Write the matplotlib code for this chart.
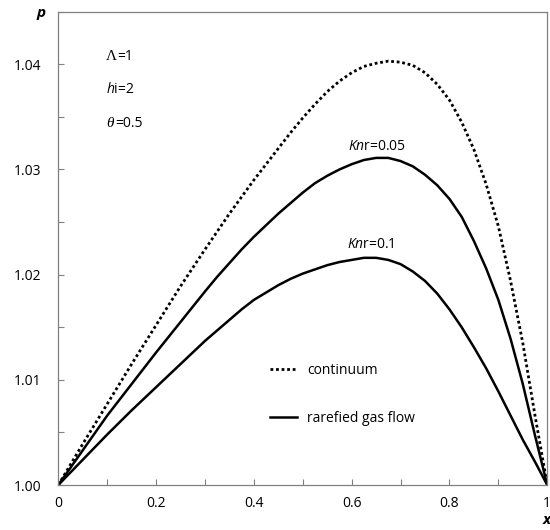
import numpy as np
import matplotlib
matplotlib.use("Agg")
import matplotlib.pyplot as plt
from matplotlib.ticker import MultipleLocator, FixedLocator

plt.rcParams["font.family"] = ["Open Sans", "DejaVu Sans"]
plt.rcParams["mathtext.fontset"] = "custom"
plt.rcParams["mathtext.rm"] = "Open Sans"
plt.rcParams["mathtext.it"] = "Open Sans:italic"

# values
x = [0, 0.05, 0.1, 0.15, 0.2, 0.25, 0.3, 0.325, 0.35, 0.375, 0.4, 0.425,
     0.45, 0.475, 0.5, 0.525, 0.55, 0.575, 0.6, 0.625, 0.65, 0.675, 0.7,
     0.725, 0.75, 0.775, 0.8, 0.825, 0.85, 0.875, 0.9, 0.925, 0.95, 0.975,
     1.0]
p_continuum = [1.0000, 1.0039, 1.0077, 1.0115, 1.0152, 1.0189, 1.0224, 1.0241,
               1.0258, 1.0274, 1.0290, 1.0305, 1.0320, 1.0335, 1.0349, 1.0362,
               1.0374, 1.0384, 1.0392, 1.0398, 1.0401, 1.0403, 1.0402, 1.0399,
               1.0392, 1.0381, 1.0366, 1.0345, 1.0319, 1.0286, 1.0246, 1.0194,
               1.0135, 1.0066, 1.0000]
p_kn005 = [1.0000, 1.0033, 1.0066, 1.0096, 1.0126, 1.0155, 1.0184, 1.0198,
           1.0211, 1.0224, 1.0236, 1.0247, 1.0258, 1.0268, 1.0278, 1.0287,
           1.0294, 1.0300, 1.0305, 1.0309, 1.0311, 1.0311, 1.0308, 1.0303,
           1.0295, 1.0285, 1.0272, 1.0255, 1.0232, 1.0206, 1.0176, 1.0139,
           1.0096, 1.0047, 1.0000]
p_kn01 = [1.0000, 1.0024, 1.0048, 1.0071, 1.0093, 1.0115, 1.0137, 1.0147,
          1.0157, 1.0167, 1.0176, 1.0183, 1.0190, 1.0196, 1.0201, 1.0205,
          1.0209, 1.0212, 1.0214, 1.0216, 1.0216, 1.0214, 1.0210, 1.0203,
          1.0194, 1.0182, 1.0167, 1.0150, 1.0131, 1.0111, 1.0089, 1.0066,
          1.0043, 1.0022, 1.0000]
xticks = [0, 0.2, 0.4, 0.6, 0.8, 1.0]
xticklabels = ["0", "0.2", "0.4", "0.6", "0.8", "1"]
yticks = [1.00, 1.01, 1.02, 1.03, 1.04]

fig = plt.figure(figsize=(5.5, 5.3), dpi=100)
ax = fig.add_axes([0.106, 0.0849, 0.889, 0.893])

ax.plot(x, p_continuum, color="black", lw=2.0, linestyle=(0, (1, 1)),
        label="continuum")
ax.plot(x, p_kn005, color="black", lw=1.8, label="rarefied gas flow")
ax.plot(x, p_kn01, color="black", lw=1.8)

ax.set_xlim(0, 1)
ax.set_ylim(1.0, 1.045)
ax.xaxis.set_major_locator(FixedLocator(xticks))
ax.set_xticklabels(xticklabels)
ax.xaxis.set_minor_locator(MultipleLocator(0.1))
ax.yaxis.set_major_locator(FixedLocator(yticks))
ax.set_yticklabels([f"{v:.2f}" for v in yticks])
ax.yaxis.set_minor_locator(MultipleLocator(0.005))
ax.tick_params(which="both", direction="in", length=4, width=0.8,
               color="#808080", labelsize=10)
ax.tick_params(axis="x", which="both", pad=8)
ax.tick_params(axis="y", which="both", pad=12)
for s in ax.spines.values():
    s.set_color("#808080")
    s.set_linewidth(0.9)

# parameter annotations
ax.text(0.098, 0.906, "\u039b", family="Liberation Serif", fontsize=11,
        transform=ax.transAxes, va="center")
ax.text(0.1195, 0.906, "=1", fontsize=10, transform=ax.transAxes, va="center")
ax.text(0.098, 0.835, r"$h$i=2", fontsize=10, transform=ax.transAxes,
        va="center")
ax.text(0.098, 0.763, "\u03b8", family="Liberation Serif", style="italic",
        fontsize=11, transform=ax.transAxes, va="center")
ax.text(0.116, 0.763, "=0.5", fontsize=10, transform=ax.transAxes, va="center")

ax.text(0.652, 1.0322, r"$Kn$r=0.05", fontsize=10, ha="center", va="center")
ax.text(0.640, 1.0229, r"$Kn$r=0.1", fontsize=10, ha="center", va="center")

ax.legend(loc="upper left", bbox_to_anchor=(0.432, 0.258), frameon=False,
          borderpad=0, borderaxespad=0, handlelength=2.0,
          handletextpad=0.7, labelspacing=2.4, fontsize=10)

fig.text(0.074, 0.975, "p", fontsize=11, fontweight="bold", style="italic",
         ha="center", va="center")
fig.text(0.994, 0.018, "x", fontsize=11, fontweight="bold", style="italic",
         ha="center", va="center")

fig.savefig("out.png", dpi=100)
